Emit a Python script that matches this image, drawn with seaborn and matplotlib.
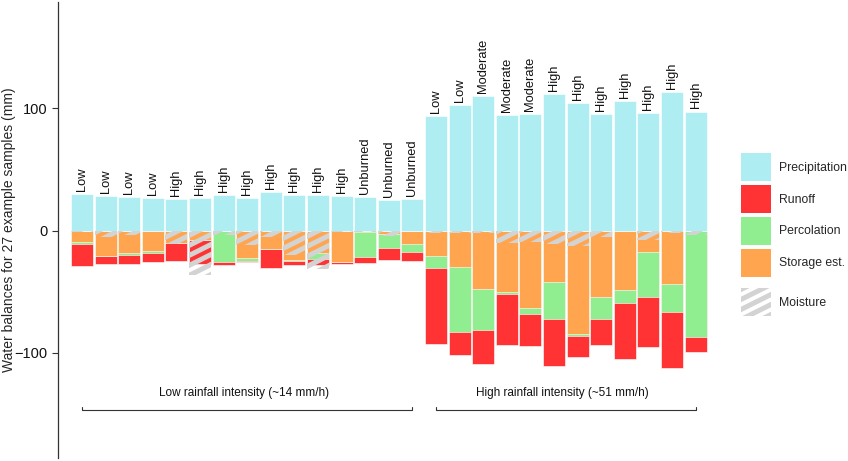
import warnings
import numpy as np
import pandas as pd
import matplotlib
matplotlib.use("Agg")
import matplotlib.pyplot as plt
import matplotlib.hatch as mhatch
from matplotlib.path import Path
from matplotlib.patches import Patch
import seaborn as sns

warnings.filterwarnings("ignore")

# ---- data (mm) ----
burn_labels = (["Low"] * 4 + ["High"] * 8 + ["Unburned"] * 3 +
               ["Low"] * 2 + ["Moderate"] * 3 + ["High"] * 7)
precipitation = [30, 28, 27.5, 27, 26.1, 27, 29, 26.7, 31.6, 29.4, 29.4, 28.6, 27.2, 24.8, 25.6,
                 93.9, 102.9, 110.2, 94.4, 95.5, 111.6, 104.5, 95, 105.9, 96.3, 113.5, 97.4]
storage = [9.5, 20.4, 18.2, 16.9, 10.3, 7.3, 0, 22.6, 14.7, 23.7, 18.2, 26, 1.2, 3, 10.6,
           21, 29.4, 47.6, 50.6, 63.1, 42.4, 84.9, 54.4, 48.7, 17.1, 43.3, 0]
percolation = [1.5, 0, 1.7, 1.1, 0, 0, 26, 2.4, 0, 0.8, 4.7, 0, 20.6, 11.4, 6.5,
               9.7, 53.6, 33.8, 1.4, 5.2, 29.7, 1.4, 18.3, 10.3, 36.8, 23.1, 87.4]
runoff = [17.6, 6.8, 7.3, 8, 14.7, 19.7, 1.8, 0.9, 15.8, 3.8, 4.9, 1.2, 4.6, 9.3, 7.4,
          61.8, 19, 28, 41.9, 26.4, 38.6, 17.1, 21.2, 45.8, 41.3, 45.7, 11.6]
moisture = [1.5, 5.5, 3.3, 0, 11, 36, 3.5, 11.4, 5.4, 20, 31.5, 1.5, 1, 4, 0.5,
            2, 2, 2, 10, 9, 11, 12.8, 5, 0, 7.3, 2, 3.3]
group_names = ["Low rainfall intensity (~14 mm/h)", "High rainfall intensity (~51 mm/h)"]
group_ranges = [(0, 14), (15, 26)]

# ---- colours ----
c_prec = "#AEEEF2"
c_run = "#FF3333"
c_perc = "#90EE90"
c_stor = "#FFA54F"
c_moist = "#D3D3D3"


# shallow diagonal stripe hatch ('z')
class ShallowStripes(mhatch.HatchPatternBase):
    def __init__(self, hatch, density):
        self.offsets = np.arange(-0.6, 1.0001, 0.1) if "z" in hatch else []
        self.num_vertices = 2 * len(self.offsets)

    def set_vertices_and_codes(self, vertices, codes):
        for i, b in enumerate(self.offsets):
            vertices[2 * i] = (-0.1, b - 0.05)
            vertices[2 * i + 1] = (1.1, b + 0.55)
        codes[0::2] = Path.MOVETO
        codes[1::2] = Path.LINETO


mhatch._hatch_types.append(ShallowStripes)

sns.set_style("white")
plt.rcParams["font.family"] = ["Liberation Sans", "DejaVu Sans"]
plt.rcParams["hatch.color"] = c_moist
plt.rcParams["hatch.linewidth"] = 3.6

n = len(precipitation)
df = pd.DataFrame({
    "sample": np.arange(n),
    "prec": precipitation,
    "tot_run": -(np.array(storage) + np.array(percolation) + np.array(runoff)),
    "tot_perc": -(np.array(storage) + np.array(percolation)),
    "tot_stor": -np.array(storage),
    "moist": -np.array(moisture),
})

fig = plt.figure(figsize=(8.48, 4.61), dpi=100)
ax = fig.add_axes([58 / 848, 3 / 461, (721 - 58) / 848, (458 - 2) / 461])

W = 0.93
ekw = dict(edgecolor=(1, 1, 1, 0.7), linewidth=0.6)
for col, colr in [("tot_run", c_run), ("tot_perc", c_perc), ("tot_stor", c_stor), ("prec", c_prec)]:
    sns.barplot(data=df, x="sample", y=col, color=colr, saturation=1, width=W,
                errorbar=None, ax=ax, **ekw)

sns.barplot(data=df, x="sample", y="moist", color=c_moist, saturation=1, width=W,
            errorbar=None, ax=ax)
for p in ax.containers[-1]:
    p.set_facecolor("none")
    p.set_edgecolor(c_moist)
    p.set_hatch("z")
    p.set_linewidth(0)

# labels above bars
for i, (v, lab) in enumerate(zip(precipitation, burn_labels)):
    ax.text(i, v + 2.5, lab, rotation=90, ha="center", va="bottom", fontsize=9.3, color="#111111")

# group brackets
for name, (a, b) in zip(group_names, group_ranges):
    yb = -147
    ax.plot([a, a, b, b], [yb + 3, yb, yb, yb + 3], color="#333333", lw=0.8, clip_on=False)
    ax.text((a + b) / 2 - 0.15, -133, name, ha="center", va="center", fontsize=8.5, color="#111111")

ax.set_xlim(-1.02, -1.02 + (721 - 58) / 23.6)
ax.set_ylim(-186, 187)
ax.set_yticks([-100, 0, 100])
ax.set_xticks([])
ax.set_xlabel("")
ax.set_ylabel("Water balances for 27 example samples (mm)", fontsize=10)
ax.yaxis.set_label_coords(-0.063, 0.5)
ax.tick_params(axis="y", length=4, width=0.8, labelsize=10.5, color="#333333",
               labelcolor="#111111", left=True)
for s in ["top", "right", "bottom"]:
    ax.spines[s].set_visible(False)
ax.spines["left"].set_color("#333333")
ax.spines["left"].set_linewidth(0.9)
ax.set_facecolor("none")

handles = [
    Patch(facecolor=c_prec, edgecolor="none", label="Precipitation"),
    Patch(facecolor=c_run, edgecolor="none", label="Runoff"),
    Patch(facecolor=c_perc, edgecolor="none", label="Percolation"),
    Patch(facecolor=c_stor, edgecolor="none", label="Storage est."),
]
leg_kw = dict(loc="upper left", frameon=False, fontsize=8.8, handlelength=2.45, handleheight=3.2,
              labelspacing=0.28, handletextpad=0.65, borderpad=0, borderaxespad=0)
fig.legend(handles=handles, bbox_to_anchor=(741 / 848, 1 - 153 / 461), **leg_kw)
fig.legend(handles=[Patch(facecolor="none", edgecolor=c_moist, hatch="z", linewidth=0,
                          label="Moisture")],
           bbox_to_anchor=(741 / 848, 1 - 288 / 461), **leg_kw)

fig.savefig("out.png", dpi=100)
